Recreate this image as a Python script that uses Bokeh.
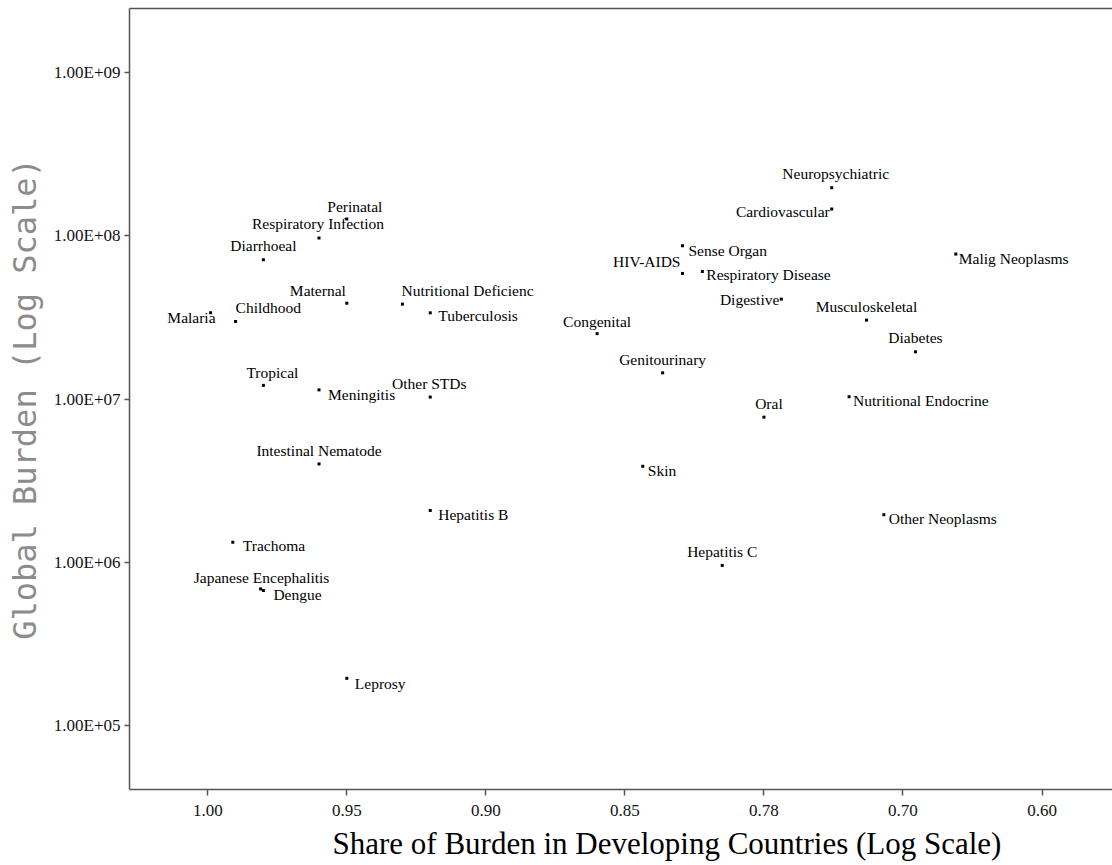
import numpy as np
from bokeh.plotting import figure
from bokeh.models import (Range1d, FixedTicker, CustomJSTickFormatter, LinearAxis,
                          Title, ColumnDataSource)
from bokeh.core.properties import value
from bokeh.embed import file_html
from bokeh.resources import INLINE

# ---------------- data ----------------
names = ["Malaria", "Childhood", "Diarrhoeal", "Tropical", "Japanese Encephalitis",
         "Dengue", "Trachoma", "Respiratory Infection", "Meningitis",
         "Intestinal Nematode", "Perinatal", "Maternal", "Leprosy",
         "Nutritional Deficienc", "Tuberculosis", "Other STDs", "Hepatitis B",
         "Congenital", "Skin", "Genitourinary", "Sense Organ", "HIV-AIDS",
         "Respiratory Disease", "Hepatitis C", "Oral", "Digestive",
         "Neuropsychiatric", "Cardiovascular", "Nutritional Endocrine",
         "Musculoskeletal", "Other Neoplasms", "Diabetes", "Malig Neoplasms"]

share = [0.999, 0.990, 0.980, 0.980, 0.981,
         0.980, 0.991, 0.960, 0.960,
         0.960, 0.950, 0.950, 0.950,
         0.930, 0.920, 0.920, 0.920,
         0.860, 0.841, 0.831, 0.821, 0.821,
         0.811, 0.801, 0.780, 0.770,
         0.741, 0.741, 0.731,
         0.721, 0.711, 0.691, 0.662]

burden = [3.38e7, 2.99e7, 7.14e7, 1.215e7, 6.88e5,
          6.73e5, 1.327e6, 9.71e7, 1.14e7,
          4.01e6, 1.27e8, 3.87e7, 1.95e5,
          3.82e7, 3.38e7, 1.03e7, 2.08e6,
          2.52e7, 3.88e6, 1.45e7, 8.71e7, 5.89e7,
          6.05e7, 9.58e5, 7.76e6, 4.10e7,
          1.97e8, 1.46e8, 1.035e7,
          3.05e7, 1.96e6, 1.95e7, 7.74e7]

x_tick_values = [1.00, 0.95, 0.90, 0.85, 0.78, 0.70, 0.60]
x_tick_labels = ["1.00", "0.95", "0.90", "0.85", "0.78", "0.70", "0.60"]
y_ticks = [1e5, 1e6, 1e7, 1e8, 1e9]

# ---------------- label placement (style) ----------------
# (alignment, x offset px, y offset px)
label_style = {
    "Malaria": ("right", 5, 5), "Childhood": ("left", 0, -14),
    "Diarrhoeal": ("center", 0, -14), "Tropical": ("center", 9, -13),
    "Japanese Encephalitis": ("center", 1, -11), "Dengue": ("left", 10, 4),
    "Trachoma": ("left", 10, 3), "Respiratory Infection": ("center", -1, -14),
    "Meningitis": ("left", 9, 5), "Intestinal Nematode": ("center", 0, -13),
    "Perinatal": ("center", 8, -12), "Maternal": ("right", -1, -13),
    "Leprosy": ("left", 8, 5), "Nutritional Deficienc": ("left", -1, -14),
    "Tuberculosis": ("left", 8, 3), "Other STDs": ("center", -1, -14),
    "Hepatitis B": ("left", 8, 4), "Congenital": ("center", 0, -12),
    "Skin": ("left", 5, 4), "Genitourinary": ("center", 0, -13),
    "Sense Organ": ("left", 6, 5), "HIV-AIDS": ("right", -2, -12),
    "Respiratory Disease": ("left", 4, 3), "Hepatitis C": ("center", 0, -14),
    "Oral": ("center", 5, -14), "Digestive": ("right", -2, 0),
    "Neuropsychiatric": ("center", 4, -14), "Cardiovascular": ("right", -2, 2),
    "Nutritional Endocrine": ("left", 4, 4), "Musculoskeletal": ("center", 0, -14),
    "Other Neoplasms": ("left", 5, 4), "Diabetes": ("center", 0, -14),
    "Malig Neoplasms": ("left", 3, 4),
}

# axis scale: tick labels are equally spaced along the axis
tick_index = np.arange(len(x_tick_values))
pos = np.interp(-np.array(share), -np.array(x_tick_values), tick_index)

src = ColumnDataSource(dict(
    pos=pos, burden=burden, name=names,
    align=[label_style[n][0] for n in names],
    dx=[label_style[n][1] for n in names],
    dy=[label_style[n][2] for n in names],
))

SERIF = "Liberation Serif"
AXIS_COL = "#555555"

p = figure(width=1112, height=865, output_backend="svg", toolbar_location=None,
           x_range=Range1d(-0.563, 6.507), y_range=Range1d(10**4.609, 10**9.393),
           y_axis_type="log", min_border_left=129, min_border_right=0,
           min_border_top=8, min_border_bottom=0)
p.outline_line_color = None
p.xgrid.visible = False
p.ygrid.visible = False
p.background_fill_color = "white"
p.border_fill_color = "white"

# x axis
p.xaxis.ticker = FixedTicker(ticks=list(tick_index))
p.xaxis.formatter = CustomJSTickFormatter(args=dict(labels=x_tick_labels),
                                          code="return labels[Math.round(tick)];")
p.xaxis.minor_tick_line_color = None
p.xaxis.major_tick_out = 6
p.xaxis.major_tick_in = 0
p.xaxis.major_label_standoff = 9

# y axis
p.yaxis.ticker = FixedTicker(ticks=y_ticks, minor_ticks=[])
p.yaxis.formatter = CustomJSTickFormatter(code="""
const e = Math.round(Math.log10(tick));
const m = tick / Math.pow(10, e);
return m.toFixed(2) + "E+" + (e < 10 ? "0" : "") + e;
""")
p.yaxis.minor_tick_line_color = None
p.yaxis.major_tick_out = 5
p.yaxis.major_tick_in = 0
p.yaxis.major_label_standoff = 4
p.yaxis.axis_label = "Global Burden (Log Scale)"
p.yaxis.axis_label_text_font = "DejaVu Sans Mono"
p.yaxis.axis_label_text_font_size = "32px"
p.yaxis.axis_label_text_font_style = "normal"
p.yaxis.axis_label_text_color = "#8c8c8c"
p.yaxis.axis_label_standoff = 7

for ax in (p.xaxis, p.yaxis):
    ax.axis_line_color = AXIS_COL
    ax.axis_line_width = 1.5
    ax.major_tick_line_color = AXIS_COL
    ax.major_tick_line_width = 1.5
    ax.major_label_text_font = SERIF
    ax.major_label_text_font_size = "17px"
    ax.major_label_text_color = "#111111"

# top frame line
top = LinearAxis(ticker=FixedTicker(ticks=[]), major_label_text_font_size="0px",
                 major_tick_out=0, major_tick_in=0, minor_tick_out=0, minor_tick_in=0,
                 major_label_standoff=0, axis_line_color=AXIS_COL, axis_line_width=1.5)
p.add_layout(top, "above")

# x axis title (centred on the full, cropped chart)
xt = Title(text="Share of Burden in Developing Countries (Log Scale)", align="left",
           offset=203, text_font=SERIF, text_font_size="31px", text_font_style="normal",
           text_color="black", standoff=10)
p.add_layout(xt, "below")

# points
p.scatter(x="pos", y="burden", source=src, marker="square", size=3,
          color="black", line_width=0)

# labels
p.text(x="pos", y="burden", text="name", source=src, x_offset="dx", y_offset="dy",
       text_align="align", text_baseline="middle", text_font=value(SERIF),
       text_font_size="15.5px", text_color="black")

open("out.html", "w").write(file_html(p, INLINE))
